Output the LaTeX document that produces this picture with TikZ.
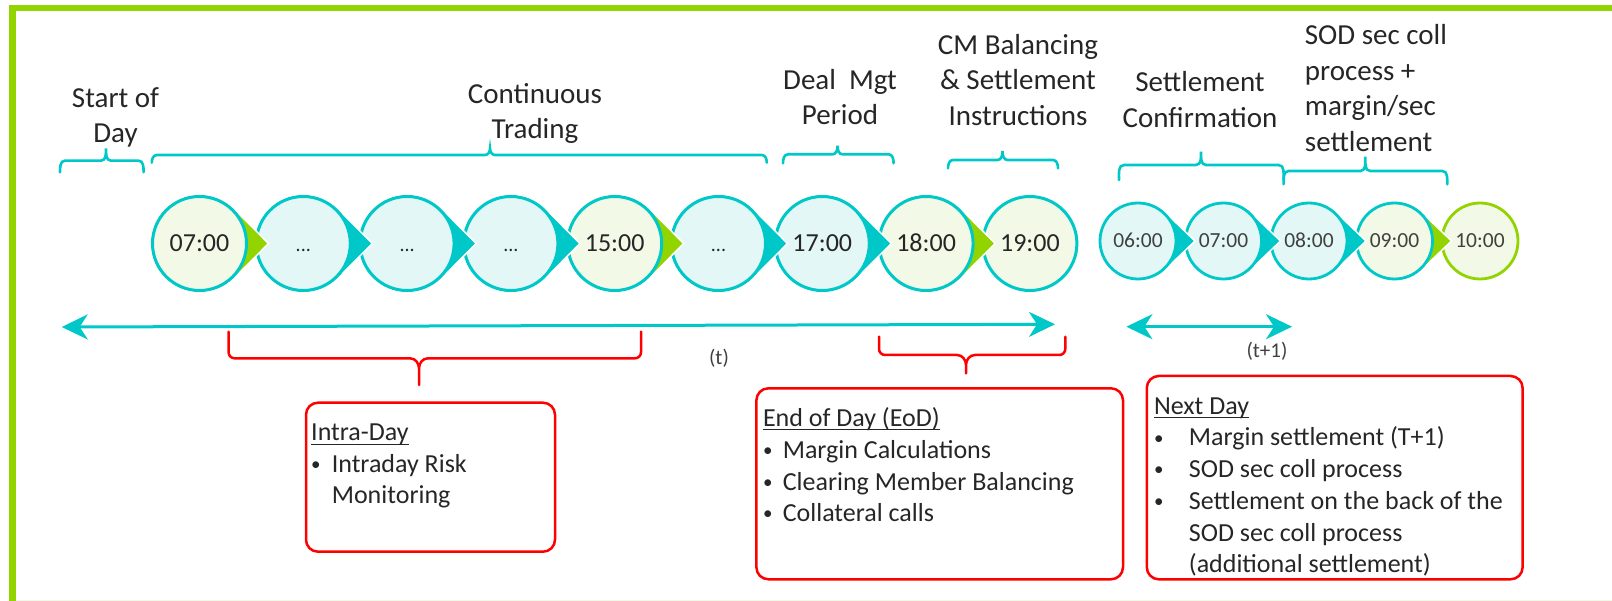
\documentclass[tikz,border=0pt]{standalone}
\usepackage{fontspec}
\setmainfont{Carlito}
\usetikzlibrary{arrows.meta,calc}

\definecolor{tealc}{RGB}{0,200,200}
\definecolor{limec}{RGB}{146,212,0}
\definecolor{palegreen}{RGB}{242,249,230}
\definecolor{paleteal}{RGB}{227,247,247}
\definecolor{ink}{RGB}{38,38,38}
\definecolor{inkb}{RGB}{64,64,64}
\definecolor{boxred}{RGB}{255,0,0}
\definecolor{faintline}{RGB}{242,249,226}

% underlined heading with a thin rule just under the baseline
\newcommand\undl[1]{\setbox0\hbox{#1}\rlap{\rule[-3.5pt]{\wd0}{1pt}}\box0}
% bullet item with a fixed indent
\newcommand\bul[2]{\makebox[#1][l]{\raisebox{1.8pt}{\fontsize{19}{19}\selectfont\textbullet}}#2}
\newcommand\dotlbl{{\fontsize{20}{24}\selectfont...}}

% curly brace opening downwards, tip upwards: x1 x2 xmid ytip yline yend
\newcommand\tealbrc[6]{%
  \draw[tealbrace] (#1,#6) to[out=90,in=180] (#1+5,#5) -- (#3-5,#5)
    to[out=0,in=-90] (#3,#4) to[out=-90,in=180] (#3+5,#5) -- (#2-5,#5)
    to[out=0,in=90] (#2,#6);}
% curly brace opening upwards, tip downwards: x1 x2 xmid ytop yline ytip
\newcommand\redbrc[6]{%
  \draw[redbrace] (#1,#4) -- (#1,#5-6) to[out=-90,in=180] (#1+6,#5) -- (#3-9,#5)
    to[out=0,in=90] (#3,#5+10) -- (#3,#6)
    (#3,#5+10) to[out=90,in=180] (#3+9,#5) -- (#2-6,#5)
    to[out=0,in=-90] (#2,#5-6) -- (#2,#4);}

\tikzset{
  lbl/.style={inner sep=0pt, text=ink, font=\fontsize{29}{35.4}\selectfont},
  boxtext/.style={inner sep=0pt, text=ink, anchor=base west},
  tealbrace/.style={draw=tealc, line width=2.6pt, line cap=round},
  redbrace/.style={draw=boxred, line width=2.5pt, line cap=round},
  redbox/.style={draw=boxred, line width=2.5pt, rounded corners=12pt, inner sep=0pt},
  tarrow/.style={draw=tealc, line width=3pt,
    {Stealth[length=26pt,width=25pt,inset=8pt]}-{Stealth[length=26pt,width=25pt,inset=8pt]}},
  bigdot/.style={circle, inner sep=0pt, minimum size=94pt, line width=3pt,
    text=ink, font=\fontsize{26}{30}\selectfont, text height=16.5pt, text depth=0pt},
  smalldot/.style={circle, inner sep=0pt, minimum size=76pt, line width=2.8pt,
    text=inkb, font=\fontsize{21.5}{26}\selectfont, text height=13.6pt, text depth=0pt},
  tip/.style={draw=white, line width=1.5pt},
  tlabel/.style={inner sep=0pt, text=inkb, font=\fontsize{21}{25}\selectfont, anchor=base}
}

\begin{document}
\begin{tikzpicture}[x=1pt,y=-1pt]
\useasboundingbox (0,0) rectangle (1612,601);

% frame
\draw[faintline, line width=1pt] (16,600.5) -- (1612,600.5);
\draw[limec, line width=6.5pt] (12.5,601) -- (12.5,8) -- (1612,8);

% ---- day t: markers, drawn right to left so each pointer lies over its neighbour
\foreach \nm/\cx/\tp/\pc/\fc/\lbl in {
    d8/1029.9/0/limec/palegreen/19:00,
    d7/926.1/1/limec/palegreen/18:00,
    d6/822.3/1/tealc/paleteal/17:00,
    d5/718.5/1/tealc/paleteal/\dotlbl,
    d4/614.7/1/limec/palegreen/15:00,
    d3/510.9/1/tealc/paleteal/\dotlbl,
    d2/407.1/1/tealc/paleteal/\dotlbl,
    d1/303.3/1/tealc/paleteal/\dotlbl,
    d0/199.5/1/limec/palegreen/07:00}{
  \ifnum\tp=1
    \filldraw[tip, fill=\pc] ($(\cx,243.5)+(45:49pt)$) arc[start angle=45, end angle=315, radius=49pt]
      -- ($(\cx,243.5)+(69pt,0pt)$) -- cycle;
  \fi
  \node[bigdot, draw=tealc, fill=\fc] (\nm) at (\cx,243.5) {\lbl};
}

% ---- day t+1 markers
\foreach \nm/\cx/\tp/\pc/\fc/\sc/\lbl in {
    n4/1480/0/limec/palegreen/limec/10:00,
    n3/1394.5/1/limec/palegreen/tealc/09:00,
    n2/1309/1/tealc/paleteal/tealc/08:00,
    n1/1223.5/1/tealc/paleteal/tealc/07:00,
    n0/1138/1/tealc/paleteal/tealc/06:00}{
  \ifnum\tp=1
    \filldraw[tip, fill=\pc] ($(\cx,241)+(45:39.5pt)$) arc[start angle=45, end angle=315, radius=39.5pt]
      -- ($(\cx,241)+(57pt,0pt)$) -- cycle;
  \fi
  \node[smalldot, draw=\sc, fill=\fc] (\nm) at (\cx,241) {\lbl};
}

% ---- phase labels
\node[lbl, anchor=base] (sod) at (115.5,107.3) {\begin{tabular}[t]{@{}c@{}}Start of\\Day\end{tabular}};
\node[lbl, anchor=base] (ct) at (535,103.3) {\begin{tabular}[t]{@{}c@{}}Continuous\\Trading\end{tabular}};
\node[lbl, anchor=base] (dm) at (840,89.3) {\begin{tabular}[t]{@{}c@{}}Deal\ \ Mgt\\Period\end{tabular}};
\node[lbl, anchor=base] (cm) at (1018,54.5) {\begin{tabular}[t]{@{}c@{}}CM Balancing\\\& Settlement\\Instructions\end{tabular}};
\node[lbl, anchor=base] (sc) at (1200,91.7) {\begin{tabular}[t]{@{}c@{}}Settlement\\Confirmation\end{tabular}};
\node[lbl, anchor=base west] (sp) at (1304.7,45) {\begin{tabular}[t]{@{}l@{}}SOD sec coll\\process +\\margin/sec\\settlement\end{tabular}};

% ---- phase braces
\tealbrc{60}{143.6}{106}{148.3}{160.7}{172.3}
\tealbrc{151.8}{766.8}{490}{148.3}{155}{162.7}
\tealbrc{783}{893.6}{837.5}{145.7}{154.3}{163.3}
\tealbrc{948}{1058}{1002.5}{151}{160}{168.3}
\tealbrc{1119}{1283.6}{1201}{151.7}{165}{180}
\tealbrc{1283.6}{1447.3}{1365.3}{156.7}{171}{184.3}

% ---- day spans
\coordinate (ta) at (61.7,327);
\coordinate (tb) at (1055,324.3);
\draw[tarrow] (ta) -- (tb);
\coordinate (ua) at (1126.4,326.7);
\coordinate (ub) at (1292,326.7);
\draw[tarrow] (ua) -- (ub);
\node[tlabel] (tl) at (719,365) {(t)};
\node[tlabel] (ul) at (1267,357.5) {(t+1)};

% ---- grouping braces
\redbrc{228.6}{641}{419}{331.7}{358.3}{385}
\redbrc{879}{1065.3}{966}{336.7}{355}{373.3}

% ---- activity boxes
\node[redbox, minimum width=249pt, minimum height=149pt] (intra) at (430.5,477.2) {};
\node[redbox, minimum width=366.6pt, minimum height=191pt] (eod) at (939.7,483.8) {};
\node[redbox, minimum width=375.8pt, minimum height=203.3pt] (nxt) at (1334.7,477.65) {};

\node[boxtext, font=\fontsize{26}{31.4}\selectfont] (intratext) at (311,441)
  {\begin{tabular}[t]{@{}l@{}}\undl{Intra-Day}\\\bul{20.6pt}{Intraday Risk}\\\hspace*{20.6pt}Monitoring\end{tabular}};
\node[boxtext, font=\fontsize{26}{31.7}\selectfont] (eodtext) at (762.8,426.7)
  {\begin{tabular}[t]{@{}l@{}}\undl{End of Day (EoD)}\\\bul{19.8pt}{Margin Calculations}\\\bul{19.8pt}{Clearing Member Balancing}\\\bul{19.8pt}{Collateral calls}\end{tabular}};
\node[boxtext, font=\fontsize{26}{31.8}\selectfont] (nxttext) at (1153.8,414)
  {\begin{tabular}[t]{@{}l@{}}\undl{Next Day}\\\bul{34.9pt}{Margin settlement (T+1)}\\\bul{34.9pt}{SOD sec coll process}\\\bul{34.9pt}{Settlement on the back of the}\\\hspace*{34.9pt}SOD sec coll process\\\hspace*{34.9pt}(additional settlement)\end{tabular}};
\end{tikzpicture}
\end{document}
